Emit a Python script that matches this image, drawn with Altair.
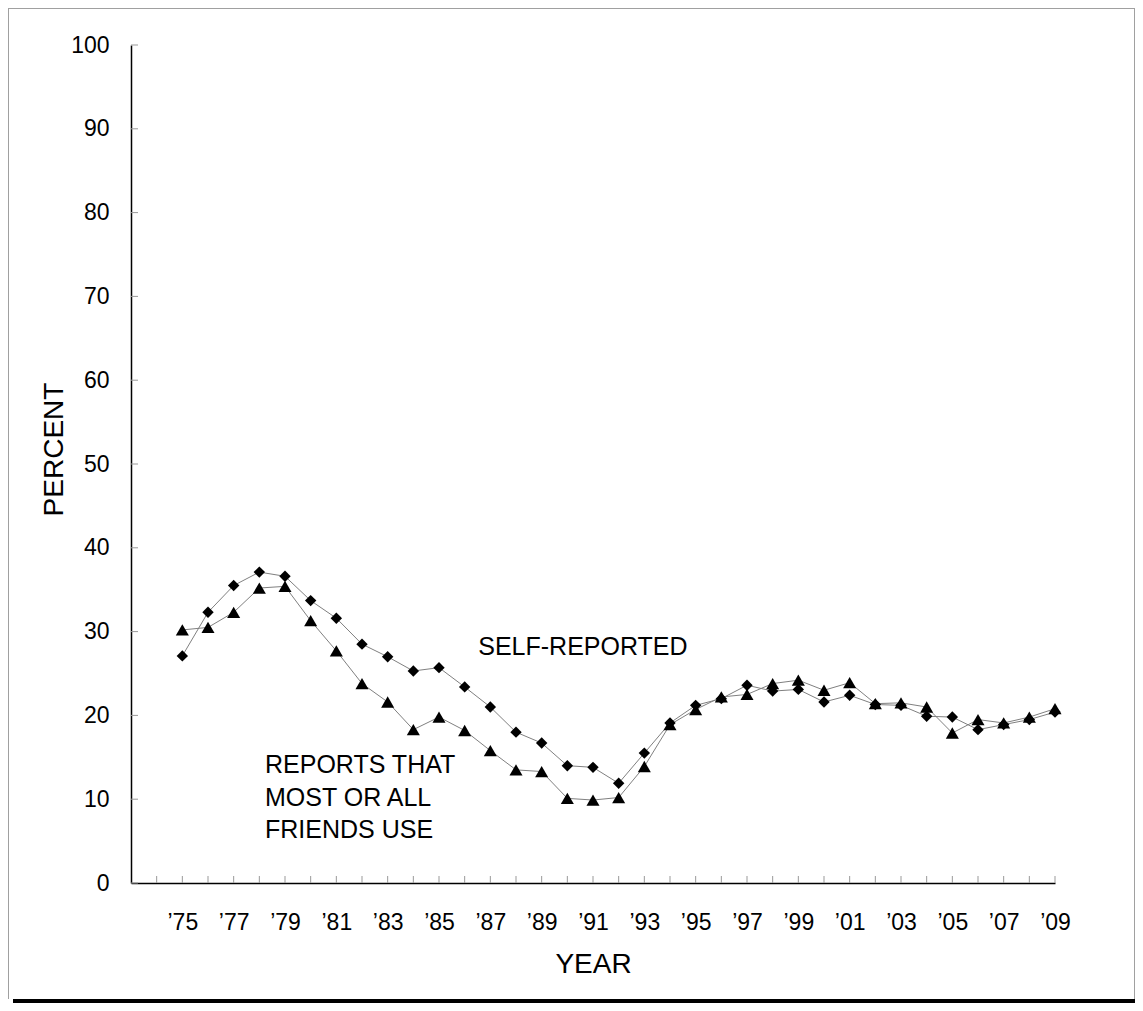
import altair as alt
import pandas as pd

# ---- data ----
years = [1975, 1976, 1977, 1978, 1979, 1980, 1981, 1982, 1983, 1984,
         1985, 1986, 1987, 1988, 1989, 1990, 1991, 1992, 1993, 1994,
         1995, 1996, 1997, 1998, 1999, 2000, 2001, 2002, 2003, 2004,
         2005, 2006, 2007, 2008, 2009]

self_reported = [27.1, 32.3, 35.5, 37.1, 36.6, 33.7, 31.6, 28.5, 27.0, 25.3,
                 25.7, 23.4, 21.0, 18.0, 16.7, 14.0, 13.8, 11.9, 15.5, 19.1,
                 21.2, 22.0, 23.6, 22.9, 23.1, 21.6, 22.4, 21.3, 21.2, 19.9,
                 19.8, 18.3, 18.9, 19.5, 20.4]

friends_use = [30.2, 30.5, 32.3, 35.2, 35.4, 31.3, 27.7, 23.8, 21.6, 18.3,
               19.8, 18.2, 15.8, 13.5, 13.3, 10.1, 9.9, 10.2, 13.9, 18.9,
               20.7, 22.2, 22.5, 23.8, 24.2, 23.0, 23.9, 21.4, 21.5, 21.0,
               17.9, 19.5, 19.1, 19.8, 20.8]

x_tick_years = list(range(1974, 2010))
x_label_years = list(range(1975, 2010, 2))
y_ticks = [0, 10, 20, 30, 40, 50, 60, 70, 80, 90, 100]

ann_labels = ["SELF-REPORTED", "REPORTS THAT", "MOST OR ALL", "FRIENDS USE"]
ann_x = [1986.53, 1978.22, 1978.22, 1978.22]
ann_y = [28.2, 14.1, 10.2, 6.3]

FONT = "Liberation Sans"
W, H = 924, 838

df_self = pd.DataFrame({"year": years, "value": self_reported})
df_friends = pd.DataFrame({"year": years, "value": friends_use})
df_xt = pd.DataFrame({"year": x_tick_years})
df_yt = pd.DataFrame({"value": y_ticks})
df_ann = pd.DataFrame({"year": ann_x, "value": ann_y, "label": ann_labels})
df_one = pd.DataFrame({"k": [0]})


def x_enc():
    return alt.X(
        "year:Q",
        scale=alt.Scale(domain=[1973, 2009], nice=False, zero=False),
        axis=alt.Axis(
            values=x_label_years,
            labelExpr="'\u2019' + substring(toString(datum.value), 2)",
            title="YEAR",
            grid=False,
            ticks=False,
            tickSize=0,
            labelPadding=46,
            labelBaseline="alphabetic",
            labelFontSize=23,
            labelFont=FONT,
            labelColor="black",
            domainColor="black",
            domainWidth=1.5,
            titleFont=FONT,
            titleFontSize=28,
            titleFontWeight="normal",
            titleColor="black",
            titleX=W / 2,
            titleY=89,
            titleBaseline="alphabetic",
            labelFlush=False,
            labelOverlap=False,
        ),
    )


def y_enc():
    return alt.Y(
        "value:Q",
        scale=alt.Scale(domain=[0, 100], nice=False, zero=True),
        axis=alt.Axis(
            values=y_ticks,
            title="PERCENT",
            grid=False,
            ticks=False,
            tickSize=0,
            labelPadding=22,
            labelFontSize=23,
            labelFont=FONT,
            labelColor="black",
            domainColor="black",
            domainWidth=1.5,
            titleFont=FONT,
            titleFontSize=28,
            titleFontWeight="normal",
            titleColor="black",
            titleX=-69,
            titleY=404,
            titleBaseline="alphabetic",
            labelFlush=False,
            labelOverlap=False,
        ),
    )


line_self = alt.Chart(df_self).mark_line(color="#808080", strokeWidth=1).encode(x=x_enc(), y=y_enc())
line_friends = alt.Chart(df_friends).mark_line(color="#808080", strokeWidth=1).encode(x=x_enc(), y=y_enc())

pts_self = alt.Chart(df_self).mark_point(
    shape="diamond", filled=True, color="black", size=130, opacity=1
).encode(x=x_enc(), y=y_enc())
pts_friends = alt.Chart(df_friends).mark_point(
    shape="triangle-up", filled=True, color="black", size=170, opacity=1
).encode(x=x_enc(), y=y_enc())

# inward axis ticks
xticks = alt.Chart(df_xt).mark_rule(color="#999999", strokeWidth=1).encode(
    x=x_enc(), y=alt.value(H), y2=alt.value(H - 7)
)
yticks = alt.Chart(df_yt).mark_rule(color="#999999", strokeWidth=1).encode(
    y=y_enc(), x=alt.value(0), x2=alt.value(7)
)

ann = alt.Chart(df_ann).mark_text(
    align="left", baseline="middle", fontSize=25, font=FONT, color="black"
).encode(x=x_enc(), y=y_enc(), text="label:N")

# page frame decoration
frame_left = alt.Chart(df_one).mark_rule(color="#a0a0a0", strokeWidth=1).encode(
    x=alt.value(-122.5), y=alt.value(-37), y2=alt.value(954)
)
frame_top = alt.Chart(df_one).mark_rule(color="#a0a0a0", strokeWidth=1).encode(
    x=alt.value(-123), x2=alt.value(1004), y=alt.value(-36.5)
)
frame_right = alt.Chart(df_one).mark_rule(color="#a0a0a0", strokeWidth=1).encode(
    x=alt.value(1003.5), y=alt.value(-37), y2=alt.value(954)
)
bottom_bar = alt.Chart(df_one).mark_rect(color="black").encode(
    x=alt.value(-118), x2=alt.value(1004), y=alt.value(954), y2=alt.value(958)
)

chart = alt.layer(
    frame_left, frame_top, frame_right, bottom_bar,
    xticks, yticks,
    line_self, line_friends,
    pts_friends, pts_self,
    ann,
).properties(
    width=W,
    height=H,
    background="white",
    padding={"left": 123, "top": 37, "right": 80, "bottom": 120},
    autosize=alt.AutoSizeParams(type="none"),
).configure_view(strokeWidth=0, stroke="transparent")

chart.save("out.html", embed_options={"renderer": "svg", "actions": False})
